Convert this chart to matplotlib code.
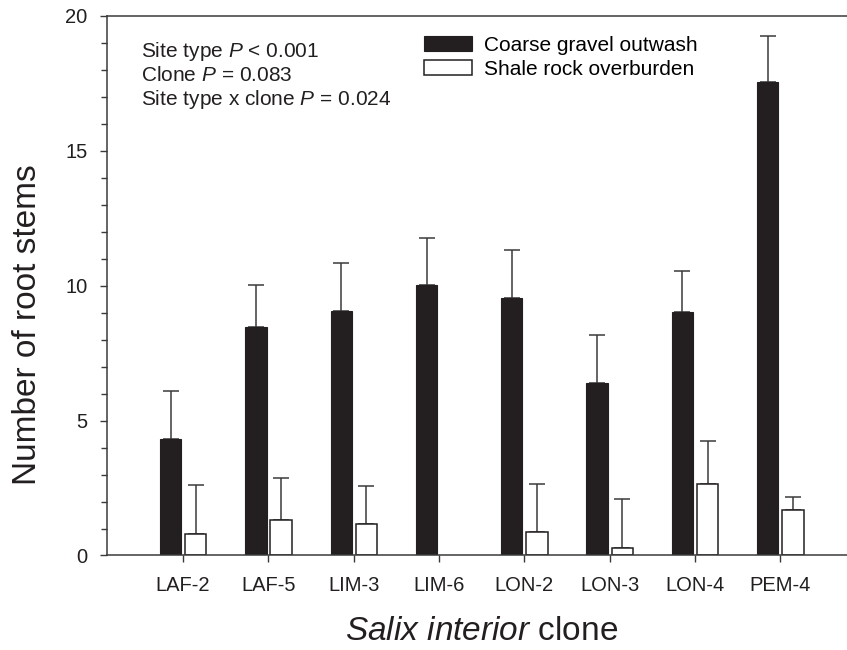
import numpy as np
import matplotlib
matplotlib.use("Agg")
import matplotlib.pyplot as plt

plt.rcParams['font.family'] = ['Liberation Sans', 'DejaVu Sans']
plt.rcParams['mathtext.fontset'] = 'custom'
plt.rcParams['mathtext.rm'] = 'Liberation Sans'
plt.rcParams['mathtext.it'] = 'Liberation Sans:italic'

clones = ["LAF-2", "LAF-5", "LIM-3", "LIM-6", "LON-2", "LON-3", "LON-4", "PEM-4"]
coarse_mean = [4.33, 8.47, 9.07, 10.03, 9.56, 6.40, 9.03, 17.56]
coarse_se = [1.76, 1.56, 1.76, 1.73, 1.78, 1.77, 1.52, 1.71]
shale_mean = [0.81, 1.30, 1.18, 0.0, 0.86, 0.27, 2.64, 1.69]
shale_se = [1.79, 1.58, 1.40, np.nan, 1.80, 1.81, 1.59, 0.48]

line_col = "#3a3a3a"
x = np.arange(len(clones))
w = 0.25

fig = plt.figure(figsize=(8.47, 6.5), dpi=100)
ax = fig.add_axes([0.1263, 0.1454, 0.8737, 0.83])

b1 = ax.bar(x - 0.145, coarse_mean, w, color="#231f20", edgecolor="#231f20", linewidth=0.8,
            label="Coarse gravel outwash", zorder=2)
# LIM-6 has no bar on shale rock
shale_draw = [m if m > 0 else np.nan for m in shale_mean]
b2 = ax.bar(x + 0.15, shale_draw, w, color="white", edgecolor="#231f20", linewidth=1.1,
            label="Shale rock overburden", zorder=2)

ax.errorbar(x - 0.145, coarse_mean, yerr=[np.zeros(8), coarse_se], fmt="none",
            ecolor=line_col, elinewidth=1.1, capsize=5.5, capthick=1.1, zorder=1)
ax.errorbar(x + 0.15, shale_draw, yerr=[np.zeros(8), shale_se], fmt="none",
            ecolor=line_col, elinewidth=1.1, capsize=5.5, capthick=1.1, zorder=1)

ax.set_xlim(-0.891, 7.784)
ax.set_ylim(0, 20)
ax.set_xticks(x)
ax.set_xticklabels(clones)
ax.set_yticks([0, 5, 10, 15, 20])
ax.set_yticks(np.arange(0, 21, 1), minor=True)
ax.tick_params(axis="both", which="major", labelsize=14.5, direction="out", length=5,
               width=1, color=line_col, labelcolor="#231f20")
ax.tick_params(axis="y", which="major", pad=9)
ax.tick_params(axis="x", which="major", pad=10)
ax.tick_params(axis="y", which="minor", direction="out", length=4.5, width=1, color=line_col)

for s in ["left", "bottom", "top"]:
    ax.spines[s].set_color(line_col)
    ax.spines[s].set_linewidth(1.1)
ax.spines["right"].set_visible(False)

fig.text(0.033, 0.5, "Number of root stems", rotation=90, ha="center", va="center",
         fontsize=24, color="#231f20")
fig.text(0.569, 0.028, r"$\mathit{Salix\ interior}$ clone", ha="center", va="center",
         fontsize=24, color="#231f20")

stats = ["Site type $\\mathit{P}$ < 0.001",
         "Clone $\\mathit{P}$ = 0.083",
         "Site type x clone $\\mathit{P}$ = 0.024"]
for i, s in enumerate(stats):
    ax.text(0.046, (555.5 - 52 - 24 * i) / 539.5, s, transform=ax.transAxes,
            fontsize=15, va="center", ha="left", color="#231f20")

ax.legend(handles=[b1, b2], loc="upper left", bbox_to_anchor=(0.428, 0.963),
          frameon=False, fontsize=15, handlelength=2.3, handleheight=0.72,
          handletextpad=0.58, labelspacing=0.23, borderpad=0, borderaxespad=0)

fig.savefig("out.png", dpi=100)
